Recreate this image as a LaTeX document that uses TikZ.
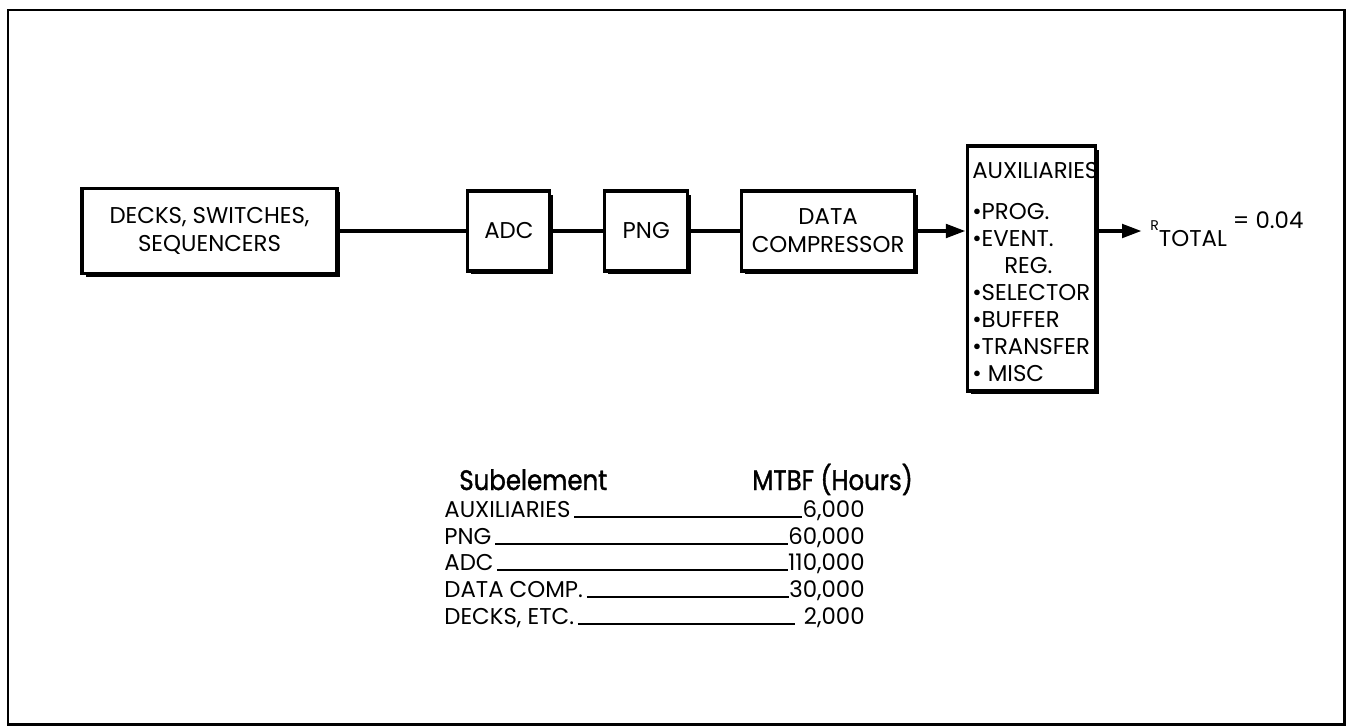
\documentclass[tikz,border=0pt]{standalone}
\usepackage{fontspec}
\setmainfont{Poppins}
\newfontfamily\headfont[FakeStretch=0.87,FakeBold=1.4]{Poppins}
\usetikzlibrary{arrows.meta,positioning,shadows}

\begin{document}
\begin{tikzpicture}[
    x=0.02cm, y=-0.02cm,
    font=\fontsize{13}{16}\selectfont,
    box/.style={draw, line width=1.8pt, fill=white, align=center, inner sep=2pt,
                general shadow={fill=black, shadow xshift=0.07cm, shadow yshift=-0.07cm}},
    flow/.style={line width=2.6pt},
    arr/.style={flow, -{Triangle[length=4mm, width=2.6mm]}},
    auxlist/.style={align=left, inner sep=0pt, anchor=north west,
                    font=\fontsize{13}{15.4}\selectfont},
    head/.style={font=\headfont\fontsize{16}{18}\selectfont, anchor=base west, inner sep=0pt},
    rowname/.style={anchor=base west, inner sep=0pt},
    rowval/.style={anchor=base east, inner sep=0pt},
    rule/.style={line width=0.9pt, shorten <=2pt}
]
\useasboundingbox (0,0) rectangle (1346,727);
\draw[line width=1.7pt] (8,10) rectangle (1344,724);

\node[box, minimum width=5.1cm, minimum height=1.7cm] (decks) at (209.5,231) {DECKS, SWITCHES,\\SEQUENCERS};
\node[box, minimum width=1.64cm, minimum height=1.6cm, right=2.555cm of decks] (adc) {ADC};
\node[box, minimum width=1.66cm, minimum height=1.6cm, right=1.035cm of adc] (png) {PNG};
\node[box, minimum width=3.46cm, minimum height=1.6cm, right=1.015cm of png] (comp) {DATA\\COMPRESSOR};
\node[box, minimum width=2.56cm, minimum height=4.9cm, right=0.995cm of comp, yshift=-0.75cm] (aux) {};
\node[auxlist] (auxtext) at ([shift={(0.12cm,-0.36cm)}]aux.north west)
    {AUXILIARIES\\[7.7pt]
     •PROG.\\
     •EVENT.\\
     \hspace{0.64cm}REG.\\
     •SELECTOR\\
     •BUFFER\\
     •TRANSFER\\
     • MISC};

\draw[flow] (decks) -- (adc);
\draw[flow] (adc) -- (png);
\draw[flow] (png) -- (comp);
\draw[arr] (comp.east) -- (aux.west |- comp.east);
\coordinate (tip) at ([xshift=0.9cm]aux.east |- comp.east);
\draw[arr] (aux.east |- tip) -- (tip);
\node[anchor=base west, inner sep=0pt] (rtot) at ([shift={(0.16cm,-0.3cm)}]tip)
    {\raisebox{9pt}{\fontsize{8}{9}\selectfont R}TOTAL\raisebox{10pt}{\ = 0.04}};

\node[head] (hsub) at (459,490) {Subelement};
\node[head] (hmtbf) at (752,490) {MTBF (Hours)};
\foreach \nm/\val/\yy/\id/\sh in {AUXILIARIES/{6,000}/517/a/0pt, PNG/{60,000}/544/b/0pt,
        ADC/{110,000}/570/c/0pt, {DATA COMP.}/{30,000}/597/d/0pt, {DECKS, ETC.}/{2,000}/624/e/0.18cm} {
  \node[rowname] (n\id) at (444,\yy) {\nm};
  \node[rowval] (v\id) at (865,\yy) {\val};
  \draw[rule, shorten >=\sh] (n\id.base east) -- (v\id.base west);
}
\end{tikzpicture}
\end{document}
